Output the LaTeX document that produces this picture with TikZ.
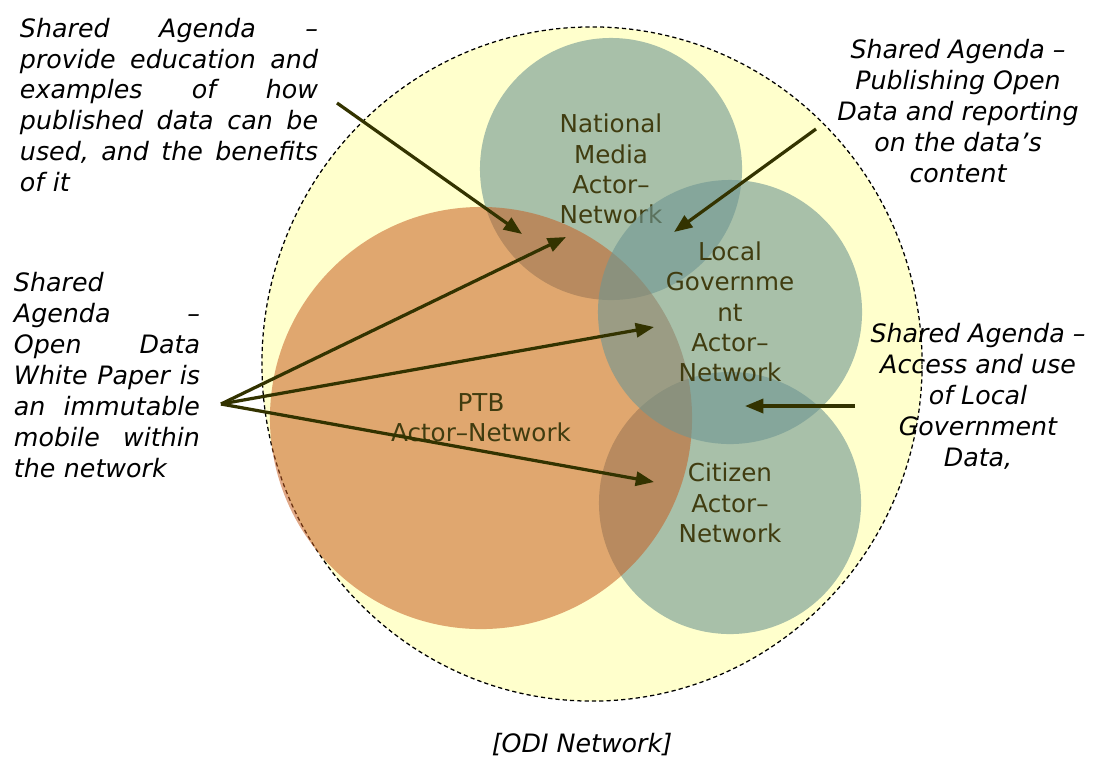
\documentclass[tikz,border=0pt]{standalone}
\usepackage{fontspec}
\setmainfont{DejaVu Sans}
\usetikzlibrary{positioning,shapes.geometric,arrows.meta}
\definecolor{odiyellow}{RGB}{255,255,204}
\definecolor{actorteal}{RGB}{110,150,146}
\definecolor{ptborange}{RGB}{198,94,33}
\definecolor{labelolive}{RGB}{64,60,16}
\definecolor{arrowolive}{RGB}{51,51,0}

\begin{document}
\begin{tikzpicture}[x=0.025cm, y=-0.025cm, line width=2.3pt,
        actor/.style={circle, fill=actorteal, fill opacity=0.6, text opacity=1, text=labelolive,
        align=center, inner sep=0pt, font=\fontsize{17.5}{21.5}\selectfont},
        ptb/.style={actor, fill=ptborange, fill opacity=0.54},
        agenda/.style={inner sep=0pt, font=\itshape\fontsize{18}{22}\selectfont},
        tip/.style={draw=arrowolive, line width=2.3pt, -{Triangle[length=13pt, width=10pt]}}]
        \useasboundingbox (0,0) rectangle (1095,759);
        \node[ellipse, draw=black, fill=odiyellow, line width=0.9pt, dash pattern=on 3pt off 2.2pt,
            minimum width=16.5cm, minimum height=16.85cm] (odi) at (592,364) {};
        \node[actor, minimum size=6.55cm] (media) at (611,169) {National\\Media\\Actor\textendash\\Network};
        \node[actor, minimum size=6.55cm] (citizen) at (730,503) {Citizen\\Actor\textendash\\Network};
        \node[ptb, minimum size=10.55cm] (PTB) at (481,418) {PTB\\Actor\textendash Network};
        \node[actor, minimum size=6.6cm] (local) at (730,312) {Local\\Governme\\nt\\Actor\textendash\\Network};

        \node[agenda, text width=7.45cm, align=left] (educate) at (169,105)
            {Shared\hfill Agenda\hfill \textendash\\
            provide\hfill education\hfill and\\
            examples\hfill of\hfill how\\
            published\hfill data\hfill can\hfill be\\
            used,\hfill and\hfill the\hfill benefits\\
            of it};
        \node[agenda, text width=4.65cm, align=left] (paper) at (107,375)
            {Shared\\
            Agenda\hfill \textendash\\
            Open\hfill Data\\
            White\hfill Paper\hfill is\\
            an\hfill immutable\\
            mobile\hfill within\\
            the network};
        \node[agenda, align=center] (publish) at (958,111)
            {Shared Agenda \textendash\\Publishing Open\\Data and reporting\\on the data’s\\content};
        \node[agenda, align=center] (access) at (978,396)
            {Shared Agenda \textendash\\Access and use\\of Local\\Government\\Data,};
        \node[agenda] (caption) at (582,745) {[ODI Network]};

        \coordinate (fan) at (221,404);
        \coordinate (educateTail) at (337,103);
        \coordinate (publishTail) at (816,129);
        \coordinate (accessTail) at (855,406);
        \coordinate (mediaTip) at (522,234);
        \coordinate (ptbMediaTip) at (566,237);
        \coordinate (localTip) at (654,327);
        \coordinate (citizenTip) at (654,482);
        \coordinate (publishTip) at (674,232);
        \coordinate (accessTip) at (745,406);

        \path (educateTail) edge [tip] (mediaTip);
        \path (fan) edge [tip] (ptbMediaTip);
        \path (fan) edge [tip] (localTip);
        \path (fan) edge [tip] (citizenTip);
        \path (publishTail) edge [tip] (publishTip);
        \path (accessTail) edge [tip] (accessTip);
\end{tikzpicture}
\end{document}
